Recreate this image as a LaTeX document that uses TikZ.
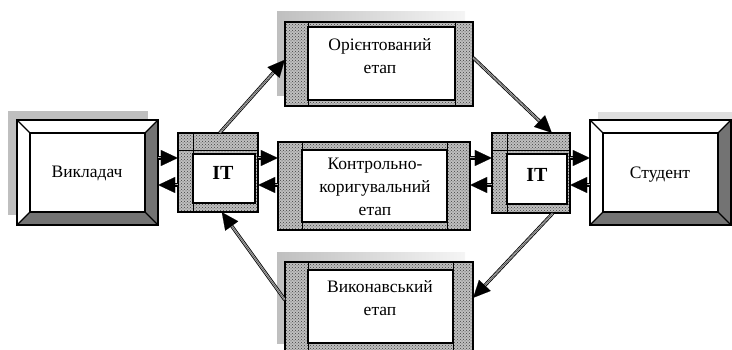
\documentclass[tikz,border=0pt]{standalone}
\usepackage{fontspec}
\setmainfont{Liberation Serif}
\usetikzlibrary{arrows.meta,patterns,fit,calc}
\tikzset{
  lbl/.style={font=\fontsize{17.5}{23}\selectfont, align=center, inner sep=0},
  itlbl/.style={font=\fontsize{20}{23}\selectfont\bfseries, inner sep=0},
  arr/.style={-{Triangle[length=17pt,width=16pt]}, line width=0.1pt,
    preaction={draw, -, line width=0.8pt, double=gray!60, double distance=1.8pt, shorten >=14pt}},
  frame/.style={inner sep=0, draw=none},
  dotfill/.style={pattern=crosshatch dots, pattern color=black!75},
}
% stage box: name, x1, y1, x2, y2, left, right, top, bottom strip sizes
\newcommand\stgbox[9]{%
  \fill[gray!50] (#2,#3) rectangle (#4,#5);
  \fill[dotfill] (#2,#3) rectangle (#4,#5);
  \fill[white] (#2+#6,#3+#8) rectangle (#4-#7,#5-#9);
  \draw[line width=1.3pt] (#2,#3) rectangle (#4,#5);
  \draw[line width=1.1pt] (#2+#6,#3+#8) rectangle (#4-#7,#5-#9);
  \draw[line width=0.9pt] (#2+#6,#3) -- (#2+#6,#5) (#4-#7,#3) -- (#4-#7,#5);
  \node[frame, fit={(#2,#3) (#4,#5)}] (#1) {};
}
% bevel box: name, x1, y1, x2, y2, inset
\newcommand\bevbox[6]{%
  \fill[white] (#2,#3) rectangle (#4,#5);
  \fill[black!55] (#4,#3) -- (#4,#5) -- (#4-#6,#5-#6) -- (#4-#6,#3+#6) -- cycle;
  \fill[black!55] (#2,#5) -- (#4,#5) -- (#4-#6,#5-#6) -- (#2+#6,#5-#6) -- cycle;
  \draw[line width=2.6pt] (#2,#3) rectangle (#4,#5);
  \draw[line width=2pt] (#2+#6,#3+#6) rectangle (#4-#6,#5-#6);
  \draw[line width=1.2pt] (#2,#3) -- (#2+#6,#3+#6) (#4,#3) -- (#4-#6,#3+#6)
    (#2,#5) -- (#2+#6,#5-#6) (#4,#5) -- (#4-#6,#5-#6);
  \node[frame, fit={(#2,#3) (#4,#5)}] (#1) {};
}
% IT box: name, x1, y1, x2, y2
\newcommand\itbox[5]{%
  \fill[gray!50] (#2,#3) rectangle (#4,#5);
  \fill[dotfill] (#2,#3) rectangle (#4,#5);
  \fill[white] (#2+15,#3+21) rectangle (#4-3,#5-9);
  \draw[line width=1.3pt] (#2,#3) rectangle (#4,#5);
  \draw[line width=1.1pt] (#2+15,#3+21) rectangle (#4-3,#5-9);
  \draw[line width=0.9pt] (#2+15,#3) -- (#2+15,#5) (#2,#3+17) -- (#4,#3+17);
  \node[frame, fit={(#2,#3) (#4,#5)}] (#1) {};
}
\begin{document}
\begin{tikzpicture}[x=1pt,y=-1pt]
\useasboundingbox (0,0) rectangle (732,350);
% shadows
\fill[gray!50] (8,111) rectangle (148,215);
\fill[gray!25] (598,112) rectangle (740,217);
\shade[left color=gray!50, right color=gray!8] (277,12) rectangle (465,96);
\shade[left color=gray!50, right color=gray!8] (277,253) rectangle (465,343);
% boxes
\bevbox{vik}{17}{120}{158}{225}{13}
\bevbox{stu}{590}{120}{731}{225}{13}
\itbox{itL}{178}{133}{258}{212}
\itbox{itR}{492}{133}{570}{213}
\stgbox{topb}{285}{22}{473}{106}{23}{18}{5}{6}
\stgbox{midb}{278}{142}{470}{230}{24}{23}{8}{8}
\stgbox{botb}{285}{262}{473}{352}{23}{20}{8}{9}
% labels
\node[lbl] (tvik) at (87,173) {Викладач};
\node[lbl] (tstu) at (660,175) {Студент};
\node[itlbl] (titl) at (223,173) {IT};
\node[itlbl] (titr) at (537,175) {IT};
\node[lbl] (ttop) at (380,56) {Орієнтований\\етап};
\node[lbl] (tmid) at (375,187) {Контрольно-\\коригувальний\\етап};
\node[lbl] (tbot) at (380,298) {Виконавський\\етап};
% horizontal connectors
\draw[arr] (vik.east |- 0,158) -- (itL.west |- 0,158);
\draw[arr] (itL.west |- 0,185) -- (vik.east |- 0,185);
\draw[arr] (itL.east |- 0,158) -- (midb.west |- 0,158);
\draw[arr] (midb.west |- 0,185) -- (itL.east |- 0,185);
\draw[arr] (midb.east |- 0,158) -- (itR.west |- 0,158);
\draw[arr] (itR.west |- 0,185) -- (midb.east |- 0,185);
\draw[arr] (itR.east |- 0,158) -- (stu.west |- 0,158);
\draw[arr] (stu.west |- 0,185) -- (itR.east |- 0,185);
% diagonal connectors
\draw[arr] ($(itL.north west)+(42,0)$) -- ($(topb.north west)+(0,38)$);
\draw[arr] ($(topb.north east)+(0,36)$) -- ($(itR.north west)+(60,0)$);
\draw[arr] ($(itR.south west)+(61,0)$) -- ($(botb.north east)+(0,36)$);
\draw[arr] ($(botb.north west)+(0,38)$) -- ($(itL.south west)+(44,0)$);
\end{tikzpicture}
\end{document}
